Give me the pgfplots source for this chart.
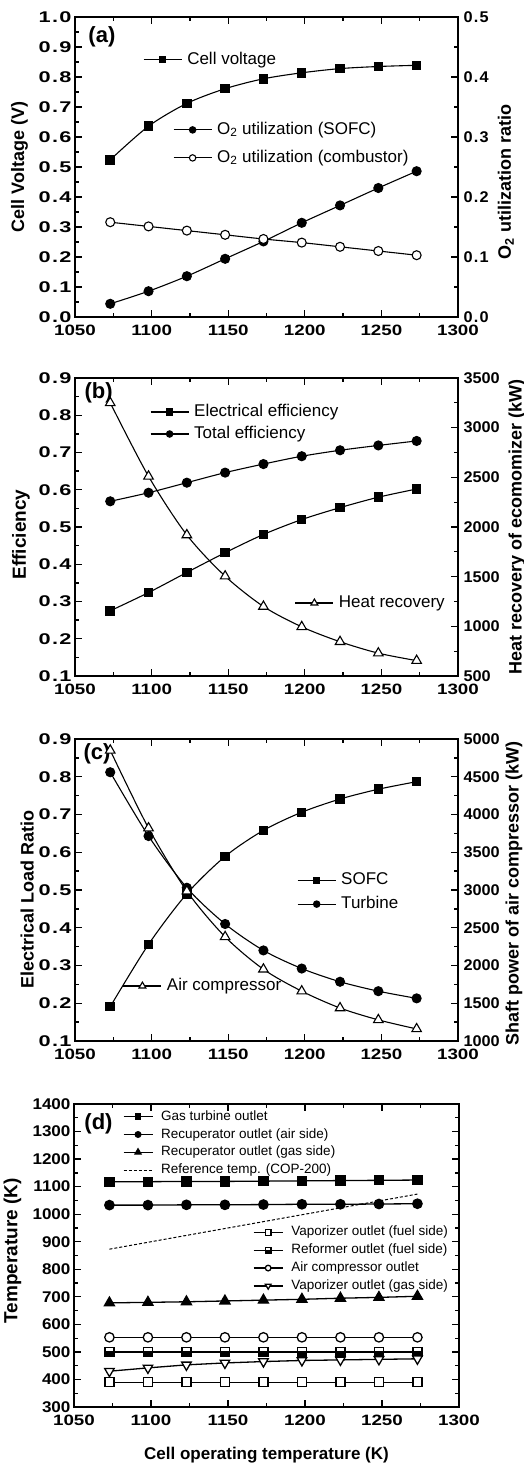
\documentclass[border=0pt]{standalone}
\usepackage{fontspec}
\setmainfont{Liberation Sans}
\newfontfamily\tickX[FakeStretch=1.25]{Liberation Sans}
\newfontfamily\tickYL[FakeStretch=1.4]{Liberation Sans}
\newfontfamily\tickYR[FakeStretch=1.05]{Liberation Sans}
\newfontfamily\tickD[FakeStretch=1.1]{Liberation Sans}
\usepackage{pgfplots}
\pgfplotsset{compat=1.18}

\pgfdeclareplotmark{hsq}{%
  \pgfpathrectangle{\pgfpoint{-\pgfplotmarksize}{-\pgfplotmarksize}}{\pgfpoint{2\pgfplotmarksize}{\pgfplotmarksize}}%
  \pgfusepathqfillstroke
  \pgfpathrectangle{\pgfpoint{-\pgfplotmarksize}{-\pgfplotmarksize}}{\pgfpoint{2\pgfplotmarksize}{2\pgfplotmarksize}}%
  \pgfusepathqstroke
}

\tikzset{plab/.style={anchor=west, font=\bfseries\fontsize{22}{24}\selectfont}}

\pgfplotsset{
 base/.style={
  scale only axis, width=383pt, height=300pt,
  xmin=1050, xmax=1300, xtick={1050,1100,1150,1200,1250,1300},
  minor x tick num=1, minor y tick num=1,
  tick align=inside, major tick length=7pt, minor tick length=4pt,
  tick style={line width=1.3pt, black},
  axis line style={line width=1.8pt},
  x tick label style={font=\tickX\bfseries\fontsize{15}{16}\selectfont},
  y tick label style={font=\tickYL\bfseries\fontsize{15.5}{16}\selectfont},
  /pgf/number format/assume math mode=true,
  /pgf/number format/1000 sep={},
  /pgf/number format/dec sep={\kern1.3pt.\kern1.3pt},
  label style={font=\bfseries\fontsize{18}{20}\selectfont},
  xticklabel shift=4pt,
  clip=false,
  legend cell align=left,
  legend style={draw=none, fill=none, inner sep=0pt, outer sep=0pt,
    font=\fontsize{17}{20}\selectfont,
    nodes={inner sep=0pt, text height=12pt, text depth=3.5pt},
    column sep=5pt},
  legend image code/.code={%
    \draw[mark repeat=2, mark phase=2] plot coordinates {(0pt,0pt) (19pt,0pt) (38pt,0pt)};},
  every axis plot/.append style={line width=1.1pt, black},
 },
 rightax/.style={axis x line=none, axis y line*=right, yticklabel shift=2pt,
  y tick label style={font=\tickYR\bfseries\fontsize{15.5}{16}\selectfont}},
 onedec/.style={y tick label style={/pgf/number format/fixed, /pgf/number format/fixed zerofill, /pgf/number format/precision=1}},
 limg/.style={line width=1.1pt, black, mark size=#1},
}

\begin{document}
\begin{tikzpicture}
\useasboundingbox (0,0) rectangle (524pt,-1467pt);

% ---------------- Panel (a) ----------------
\begin{axis}[base, onedec, at={(75pt,-317pt)}, anchor=south west, height=300pt,
  ymin=0, ymax=1, ytick={0,0.1,0.2,0.3,0.4,0.5,0.6,0.7,0.8,0.9,1}, ytick pos=left,
  ylabel={Cell Voltage (V)}, ylabel style={at={(axis description cs:-0.145,0.5)}, anchor=center},
  legend style={at={(axis description cs:0.178,0.857)}, anchor=west},
]
\addlegendimage{limg=3pt, mark=square*}
\addlegendentry{Cell voltage}
\addplot[smooth, mark=square*, mark size=4.2pt, forget plot] coordinates {
(1073,0.524) (1098,0.636) (1123,0.712) (1148,0.761) (1173,0.794) (1198,0.814) (1223,0.828) (1248,0.835) (1273,0.839)};
\node[plab] at (axis description cs:0.026,0.935) {(a)};
\end{axis}
\begin{axis}[base, rightax, onedec, at={(75pt,-317pt)}, anchor=south west, height=300pt,
  ymin=0, ymax=0.5, ytick={0,0.1,0.2,0.3,0.4,0.5},
  ylabel={O\textsubscript{2} utilization ratio}, ylabel style={at={(axis description cs:1.125,0.45)}, anchor=center},
  legend style={at={(axis description cs:0.256,0.577)}, anchor=west, row sep=12.5pt},
]
\addlegendimage{limg=3.2pt, mark=*}
\addlegendentry{O\textsubscript{2} utilization (SOFC)}
\addlegendimage{limg=3.2pt, mark=*, mark options={fill=white}}
\addlegendentry{O\textsubscript{2} utilization (combustor)}
\addplot[smooth, mark=*, mark size=4.5pt, forget plot] coordinates {
(1073,0.022) (1098,0.043) (1123,0.068) (1148,0.097) (1173,0.126) (1198,0.157) (1223,0.186) (1248,0.215) (1273,0.243)};
\addplot[smooth, mark=*, mark size=4.5pt, mark options={fill=white}, forget plot] coordinates {
(1073,0.158) (1098,0.151) (1123,0.144) (1148,0.137) (1173,0.130) (1198,0.124) (1223,0.117) (1248,0.110) (1273,0.103)};
\end{axis}

% ---------------- Panel (b) ----------------
\begin{axis}[base, onedec, at={(75pt,-676pt)}, anchor=south west, height=298pt,
  ymin=0.1, ymax=0.9, ytick={0.1,0.2,0.3,0.4,0.5,0.6,0.7,0.8,0.9}, ytick pos=left,
  ylabel={Efficiency}, ylabel style={at={(axis description cs:-0.141,0.475)}, anchor=center, font=\bfseries\fontsize{19}{20}\selectfont},
  legend style={at={(axis description cs:0.196,0.849)}, anchor=west, row sep=6.5pt},
]
\addlegendimage{limg=3pt, mark=square*}
\addlegendentry{Electrical efficiency}
\addlegendimage{limg=3.2pt, mark=*}
\addlegendentry{Total efficiency}
\addplot[smooth, mark=square*, mark size=4.2pt, forget plot] coordinates {
(1073,0.275) (1098,0.324) (1123,0.378) (1148,0.431) (1173,0.480) (1198,0.520) (1223,0.552) (1248,0.580) (1273,0.602)};
\addplot[smooth, mark=*, mark size=4.5pt, forget plot] coordinates {
(1073,0.569) (1098,0.592) (1123,0.619) (1148,0.646) (1173,0.669) (1198,0.690) (1223,0.706) (1248,0.719) (1273,0.731)};
\node[plab] at (axis description cs:0.016,0.95) {(b)};
\end{axis}
\begin{axis}[base, rightax, at={(75pt,-676pt)}, anchor=south west, height=298pt,
  ymin=500, ymax=3500, ytick={500,1000,1500,2000,2500,3000,3500},
  ylabel={Heat recovery of ecomomizer (kW)}, ylabel style={at={(axis description cs:1.154,0.5)}, anchor=center},
  legend style={at={(axis description cs:0.574,0.245)}, anchor=west},
]
\addlegendimage{limg=4pt, mark=triangle*, mark options={fill=white}}
\addlegendentry{Heat recovery}
\addplot[smooth, mark=triangle*, mark size=5.5pt, mark options={fill=white}, forget plot] coordinates {
(1073,3250) (1098,2510) (1123,1920) (1148,1505) (1173,1200) (1198,995) (1223,845) (1248,730) (1273,655)};
\end{axis}

% ---------------- Panel (c) ----------------
\begin{axis}[base, onedec, at={(75pt,-1041pt)}, anchor=south west, height=302pt,
  ymin=0.1, ymax=0.9, ytick={0.1,0.2,0.3,0.4,0.5,0.6,0.7,0.8,0.9}, ytick pos=left,
  ylabel={Electrical Load Ratio}, ylabel style={at={(axis description cs:-0.125,0.47)}, anchor=center},
  legend style={at={(axis description cs:0.58,0.493)}, anchor=west, row sep=8.5pt},
]
\addlegendimage{limg=3pt, mark=square*}
\addlegendentry{SOFC}
\addlegendimage{limg=3.2pt, mark=*}
\addlegendentry{Turbine}
\addplot[smooth, mark=square*, mark size=4.2pt, forget plot] coordinates {
(1073,0.191) (1098,0.356) (1123,0.490) (1148,0.589) (1173,0.658) (1198,0.706) (1223,0.741) (1248,0.767) (1273,0.787)};
\addplot[smooth, mark=*, mark size=4.5pt, forget plot] coordinates {
(1073,0.812) (1098,0.643) (1123,0.506) (1148,0.410) (1173,0.340) (1198,0.292) (1223,0.257) (1248,0.232) (1273,0.213)};
\node[plab] at (axis description cs:0.013,0.95) {(c)};
\end{axis}
\begin{axis}[base, rightax, at={(75pt,-1041pt)}, anchor=south west, height=302pt,
  ymin=1000, ymax=5000, ytick={1000,1500,2000,2500,3000,3500,4000,4500,5000},
  ylabel={Shaft power of air compressor (kW)}, ylabel style={at={(axis description cs:1.146,0.487)}, anchor=center},
  legend style={at={(axis description cs:0.125,0.182)}, anchor=west},
]
\addlegendimage{limg=4pt, mark=triangle*, mark options={fill=white}}
\addlegendentry{Air compressor}
\addplot[smooth, mark=triangle*, mark size=5.5pt, mark options={fill=white}, forget plot] coordinates {
(1073,4850) (1098,3820) (1123,2985) (1148,2380) (1173,1950) (1198,1660) (1223,1437) (1248,1280) (1273,1160)};
\end{axis}

% ---------------- Panel (d) ----------------
\begin{axis}[base, at={(74pt,-1407pt)}, anchor=south west, width=385pt, height=303pt,
  ymin=300, ymax=1400, ytick={300,400,500,600,700,800,900,1000,1100,1200,1300,1400},
  y tick label style={font=\tickD\bfseries\fontsize{15.5}{16}\selectfont},
  ylabel={Temperature (K)}, ylabel style={at={(axis description cs:-0.16,0.515)}, anchor=center, font=\bfseries\fontsize{19}{20}\selectfont},
  xlabel={Cell operating temperature (K)}, xlabel style={at={(axis description cs:0.5,-0.158)}, anchor=center, font=\bfseries\fontsize{17}{20}\selectfont},
  legend style={at={(axis description cs:0.127,0.870)}, anchor=west, row sep=4.8pt, font=\fontsize{13.5}{16}\selectfont,
     nodes={inner sep=0pt, text height=10pt, text depth=3pt}, column sep=8pt},
  legend image code/.code={%
    \draw[mark repeat=2, mark phase=2, every mark/.append style={scale=0.6}] plot coordinates {(0pt,0pt) (14.5pt,0pt) (29pt,0pt)};},
  every axis plot/.append style={line width=1.3pt},
]
\addplot[mark=square*, mark size=4.5pt] coordinates {
(1073,1118) (1098,1118) (1123,1119) (1148,1119) (1173,1120) (1198,1121) (1223,1122) (1248,1123) (1273,1124)};
\addlegendentry{Gas turbine outlet}
\addplot[mark=*, mark size=4.7pt] coordinates {
(1073,1033) (1098,1033) (1123,1034) (1148,1034) (1173,1035) (1198,1036) (1223,1036) (1248,1037) (1273,1038)};
\addlegendentry{Recuperator outlet (air side)}
\addplot[mark=triangle*, mark size=5.8pt] coordinates {
(1073,678) (1098,680) (1123,682) (1148,685) (1173,688) (1198,691) (1223,695) (1248,698) (1273,702)};
\addlegendentry{Recuperator outlet (gas side)}
\addplot[line width=1pt, dash pattern=on 3pt off 2pt, mark=none] coordinates {
(1073,873) (1098,898) (1123,923) (1148,948) (1173,973) (1198,998) (1223,1023) (1248,1048) (1273,1073)};
\addlegendentry{Reference temp. (COP-200)}
\node[plab] at (axis description cs:0.018,0.935) {(d)};
\end{axis}
\begin{axis}[base, at={(74pt,-1407pt)}, anchor=south west, width=385pt, height=303pt,
  ymin=300, ymax=1400, hide axis,
  legend style={at={(axis description cs:0.465,0.488)}, anchor=west, row sep=4.8pt, font=\fontsize{13.5}{16}\selectfont,
     nodes={inner sep=0pt, text height=10pt, text depth=3pt}, column sep=8pt},
  legend image code/.code={%
    \draw[mark repeat=2, mark phase=2, every mark/.append style={scale=0.6}] plot coordinates {(0pt,0pt) (14.5pt,0pt) (29pt,0pt)};},
  every axis plot/.append style={line width=1.3pt},
]
\addplot[mark=square*, mark size=4.5pt, mark options={fill=white}] coordinates {
(1073,390) (1098,390) (1123,390) (1148,390) (1173,390) (1198,390) (1223,390) (1248,390) (1273,390)};
\addlegendentry{Vaporizer outlet (fuel side)}
\addplot[mark=hsq, mark size=4.5pt, mark options={fill=black}] coordinates {
(1073,500) (1098,500) (1123,500) (1148,500) (1173,500) (1198,500) (1223,500) (1248,500) (1273,500)};
\addlegendentry{Reformer outlet (fuel side)}
\addplot[mark=*, mark size=4.7pt, mark options={fill=white}] coordinates {
(1073,553) (1098,553) (1123,553) (1148,553) (1173,553) (1198,553) (1223,553) (1248,553) (1273,553)};
\addlegendentry{Air compressor outlet}
\addplot[mark=triangle*, mark size=5.5pt, mark options={fill=white, rotate=180}] coordinates {
(1073,430) (1098,442) (1123,453) (1148,460) (1173,465) (1198,469) (1223,471) (1248,473) (1273,475)};
\addlegendentry{Vaporizer outlet (gas side)}
\end{axis}
\end{tikzpicture}
\end{document}
